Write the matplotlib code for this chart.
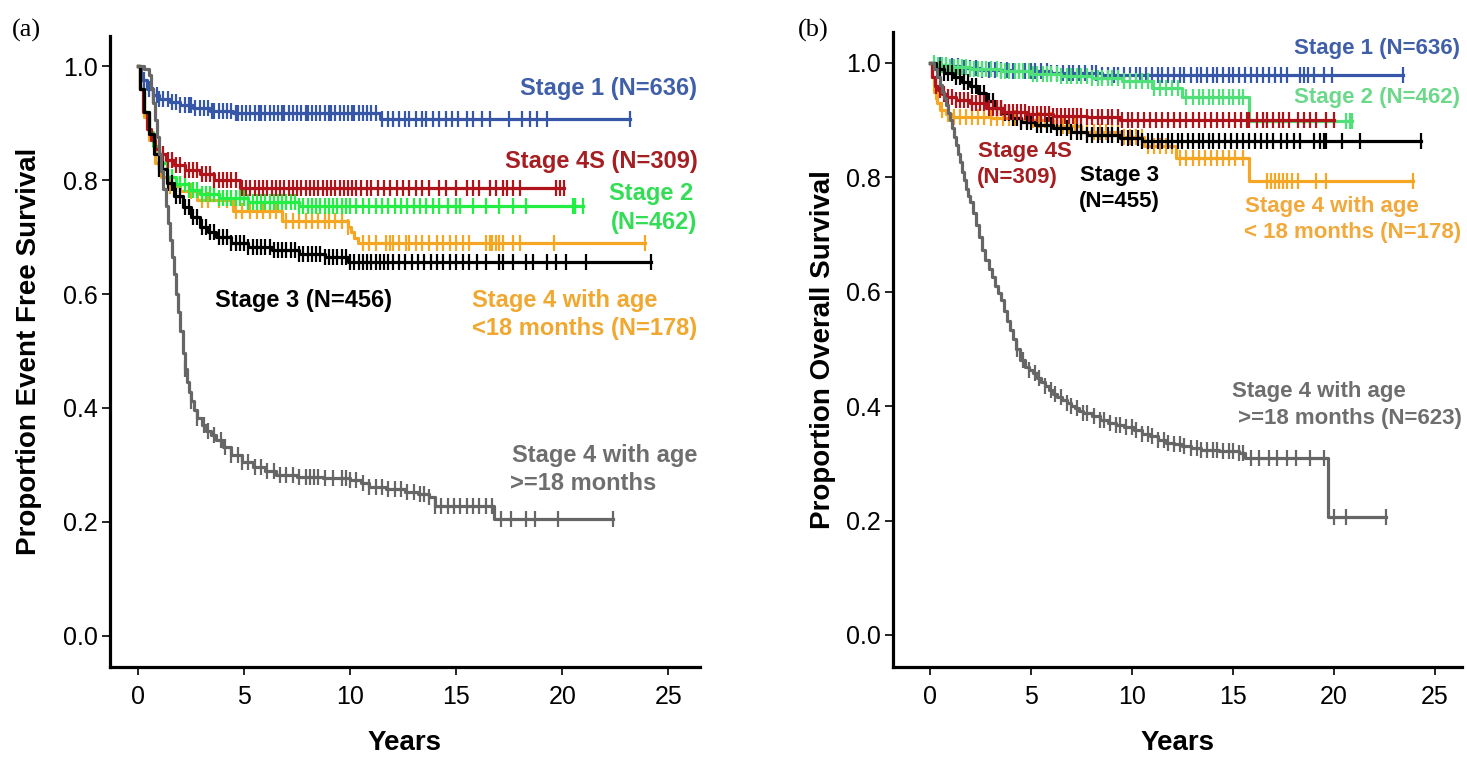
import numpy as np
import matplotlib.pyplot as plt

plt.rcParams['font.family'] = ['Liberation Sans', 'DejaVu Sans']

# ---------------- (a) Event free survival ----------------
# step times (years) and survival proportions, plus censor times
a_stage1_t = [0, 0.15, 0.4, 0.7, 1.0, 1.5, 2.0, 2.6, 3.4, 4.5, 11.4]
a_stage1_s = [1.0, 0.975, 0.96, 0.95, 0.943, 0.937, 0.932, 0.926, 0.921, 0.918, 0.907]
a_stage1_c = [0.3, 0.5, 0.7, 0.9, 1.0, 1.2, 1.4, 1.6, 1.8, 2.0, 2.2, 2.4, 2.5, 2.7, 2.9, 3.1, 3.3, 3.5,
              3.6, 3.8, 4.0, 4.2, 4.4, 4.6, 4.7, 4.9, 5.1, 5.3, 5.5, 5.7, 5.8, 6.0, 6.2, 6.4, 6.6, 6.8,
              6.9, 7.1, 7.3, 7.5, 7.7, 7.9, 8.0, 8.2, 8.4, 8.6, 8.8, 9.0, 9.1, 9.3, 9.5, 9.7, 9.9, 10.1,
              10.2, 10.4, 10.6, 10.8, 11.0, 11.2, 11.5, 11.8, 12.0, 12.3, 12.6, 12.8, 13.1, 13.4, 13.6,
              13.9, 14.2, 14.5, 14.8, 15.1, 15.5, 15.8, 16.2, 16.6, 17.5, 18.1, 18.5, 18.8, 19.3, 23.2]

a_stage4s_t = [0, 0.1, 0.25, 0.4, 0.6, 0.8, 1.0, 1.3, 1.7, 2.2, 2.9, 3.6, 4.8]
a_stage4s_s = [1.0, 0.96, 0.92, 0.89, 0.87, 0.855, 0.845, 0.835, 0.826, 0.818, 0.81, 0.80, 0.786]
a_stage4s_c = [1.0, 1.2, 1.4, 1.6, 1.8, 2.0, 2.2, 2.4, 2.6, 2.8, 3.0, 3.2, 3.4, 3.6, 3.8, 4.0, 4.2, 4.4,
               4.6, 4.9, 5.1, 5.3, 5.5, 5.7, 5.9, 6.1, 6.3, 6.5, 6.7, 6.9, 7.1, 7.3, 7.5, 7.7, 7.9, 8.1,
               8.3, 8.5, 8.7, 8.9, 9.1, 9.3, 9.5, 9.7, 9.9, 10.1, 10.3, 10.5, 10.8, 11.0, 11.3, 11.6,
               11.9, 12.2, 12.5, 12.8, 13.1, 13.4, 13.7, 14.2, 14.5, 15.0, 15.5, 15.8, 16.1, 16.6, 16.9,
               17.2, 17.4, 17.7, 18.0, 19.7, 19.9, 20.1]

a_stage2_t = [0, 0.1, 0.3, 0.5, 0.7, 1.0, 1.35, 1.8, 2.4, 2.9, 3.8, 5.2, 7.6]
a_stage2_s = [1.0, 0.96, 0.92, 0.885, 0.86, 0.83, 0.806, 0.793, 0.782, 0.775, 0.768, 0.762, 0.755]
a_stage2_c = [0.8, 1.0, 1.2, 1.4, 1.6, 1.8, 2.0, 2.2, 2.4, 2.6, 2.8, 3.0, 3.2, 3.4, 3.6, 3.8, 4.0, 4.2,
              4.4, 4.6, 4.8, 5.0, 5.2, 5.4, 5.6, 5.8, 6.0, 6.2, 6.4, 6.6, 6.8, 7.0, 7.2, 7.4, 7.6, 7.8,
              8.0, 8.2, 8.4, 8.6, 8.8, 9.0, 9.2, 9.4, 9.6, 9.8, 10.0, 10.3, 10.6, 10.9, 11.2, 11.5, 11.8,
              12.1, 12.4, 12.7, 13.0, 13.3, 13.6, 13.9, 14.2, 14.6, 15.0, 15.2, 15.8, 16.4, 17.0, 17.7,
              18.3, 20.5, 20.6, 21.0]

a_stage4y_t = [0, 0.1, 0.3, 0.5, 0.8, 1.1, 1.5, 2.0, 2.8, 4.5, 6.8, 9.9, 10.05, 10.2, 10.35]
a_stage4y_s = [1.0, 0.96, 0.91, 0.87, 0.83, 0.805, 0.79, 0.78, 0.765, 0.745, 0.728, 0.718, 0.708, 0.698, 0.69]
a_stage4y_c = [1.5, 2.0, 2.5, 3.0, 3.3, 3.8, 4.2, 4.6, 4.9, 5.3, 5.6, 5.9, 6.2, 6.5, 7.0, 7.3, 7.6, 7.9,
               8.2, 8.5, 8.8, 9.0, 9.3, 9.6, 9.9, 10.6, 10.9, 11.2, 11.7, 11.9, 12.0, 12.3, 12.65, 12.8,
               13.1, 13.4, 13.7, 14.1, 14.4, 14.7, 15.0, 15.3, 15.6, 16.4, 16.6, 16.7, 16.9, 17.0, 17.2,
               17.7, 18.0, 19.6, 23.9]

a_stage3_t = [0, 0.1, 0.3, 0.5, 0.75, 1.0, 1.35, 1.7, 2.1, 2.5, 2.9, 3.3, 3.7, 4.4, 5.2, 6.3, 7.6, 8.8, 9.9]
a_stage3_s = [1.0, 0.96, 0.92, 0.88, 0.845, 0.82, 0.795, 0.772, 0.753, 0.735, 0.718, 0.708, 0.70, 0.69,
              0.683, 0.677, 0.671, 0.665, 0.657]
a_stage3_c = [1.0, 1.2, 1.4, 1.6, 1.8, 2.0, 2.2, 2.4, 2.6, 2.8, 3.0, 3.2, 3.4, 3.6, 3.8, 4.0, 4.2, 4.4,
              4.6, 4.8, 5.0, 5.2, 5.4, 5.6, 5.8, 6.0, 6.2, 6.4, 6.6, 6.8, 7.0, 7.2, 7.4, 7.6, 7.8, 8.0,
              8.2, 8.4, 8.6, 8.8, 9.0, 9.2, 9.4, 9.6, 9.8, 10.0, 10.2, 10.4, 10.6, 10.8, 11.0, 11.2, 11.4,
              11.6, 11.8, 12.0, 12.3, 12.6, 12.9, 13.2, 13.5, 13.8, 14.1, 14.4, 14.7, 15.0, 15.3, 15.6,
              16.0, 16.4, 17.0, 17.2, 17.7, 18.3, 18.6, 19.3, 19.7, 20.2, 21.1, 24.2]

a_stage4o_t = [0, 0.3, 0.5, 0.6, 0.7, 0.8, 0.9, 1.0, 1.1, 1.2, 1.3, 1.4, 1.5, 1.6, 1.7, 1.8, 1.9, 2.0,
               2.1, 2.2, 2.3, 2.4, 2.5, 2.65, 2.8, 3.0, 3.2, 3.45, 3.7, 4.0, 4.4, 4.9, 5.4, 6.0, 6.5, 7.5,
               8.7, 10.0, 10.5, 10.9, 11.7, 12.6, 13.2, 13.7, 14.0, 16.8]
a_stage4o_s = [1.0, 0.995, 0.985, 0.96, 0.935, 0.905, 0.875, 0.845, 0.815, 0.785, 0.755, 0.725, 0.695,
               0.665, 0.635, 0.60, 0.568, 0.535, 0.497, 0.468, 0.445, 0.428, 0.413, 0.397, 0.383, 0.37,
               0.36, 0.352, 0.344, 0.332, 0.318, 0.305, 0.297, 0.289, 0.282, 0.279, 0.277, 0.274, 0.268,
               0.262, 0.258, 0.253, 0.249, 0.244, 0.228, 0.205]
a_stage4o_c = [2.2, 2.5, 2.8, 3.1, 3.3, 3.6, 3.9, 4.1, 4.4, 4.7, 4.9, 5.2, 5.5, 5.8, 6.1, 6.4, 6.7, 7.0,
               7.3, 7.6, 7.9, 8.1, 8.3, 8.5, 8.8, 9.2, 9.6, 9.8, 10.0, 10.3, 10.6, 10.9, 11.2, 11.5, 11.8,
               12.1, 12.4, 12.7, 13.0, 13.3, 13.5, 13.7, 14.0, 14.3, 14.6, 14.9, 15.2, 15.5, 15.8, 16.1,
               16.4, 16.7, 17.1, 17.6, 18.3, 18.7, 19.8, 22.4]

# ---------------- (b) Overall survival ----------------
b_stage1_t = [0, 0.3, 0.8, 1.5, 2.5, 4.0, 6.0, 8.5]
b_stage1_s = [1.0, 0.997, 0.994, 0.991, 0.988, 0.985, 0.982, 0.979]
b_stage1_c = [0.5, 0.8, 1.1, 1.4, 1.7, 2.0, 2.3, 2.6, 2.9, 3.2, 3.5, 3.8, 4.1, 4.4, 4.7, 5.0, 5.2, 5.5,
              5.8, 6.0, 6.3, 6.6, 6.9, 7.1, 7.4, 7.7, 8.0, 8.2, 8.5, 8.8, 9.1, 9.3, 9.6, 9.9, 10.2, 10.4,
              10.7, 11.0, 11.3, 11.5, 11.8, 12.1, 12.4, 12.6, 12.9, 13.2, 13.4, 13.7, 14.0, 14.2, 14.5,
              14.8, 15.0, 15.3, 15.6, 15.9, 16.2, 16.5, 16.8, 17.1, 17.4, 17.7, 18.3, 18.5, 18.7, 19.0,
              19.5, 19.9, 23.4]

b_stage2_t = [0, 0.3, 1.0, 2.0, 3.5, 5.0, 6.5, 8.0, 9.5, 11.0, 12.5, 15.8]
b_stage2_s = [1.0, 0.996, 0.992, 0.989, 0.985, 0.981, 0.977, 0.973, 0.968, 0.956, 0.94, 0.898]
b_stage2_c = [0.2, 0.4, 0.6, 0.8, 1.0, 1.2, 1.4, 1.6, 1.8, 2.0, 2.2, 2.4, 2.6, 2.8, 3.0, 3.3, 3.5, 3.7,
              3.9, 4.2, 4.4, 4.6, 4.9, 5.1, 5.3, 5.6, 5.8, 6.0, 6.3, 6.5, 6.8, 7.0, 7.3, 7.5, 7.8, 8.0,
              8.3, 8.5, 8.8, 9.0, 9.3, 9.6, 9.9, 10.2, 10.5, 10.8, 11.1, 11.4, 11.7, 12.0, 12.3, 12.7,
              13.0, 13.3, 13.5, 13.8, 14.0, 14.3, 14.5, 14.8, 15.0, 15.3, 15.5, 20.6, 20.8, 20.9]

b_stage4s_t = [0, 0.1, 0.25, 0.4, 0.6, 0.83, 1.3, 2.0, 2.8, 3.6, 4.8, 6.1, 7.8, 9.4]
b_stage4s_s = [1.0, 0.975, 0.96, 0.952, 0.946, 0.94, 0.935, 0.93, 0.922, 0.915, 0.911, 0.908, 0.905, 0.901]
b_stage4s_c = [0.3, 0.5, 0.7, 0.9, 1.1, 1.3, 1.5, 1.7, 1.9, 2.1, 2.3, 2.5, 2.7, 2.9, 3.1, 3.3, 3.5, 3.7,
               3.9, 4.1, 4.3, 4.5, 4.7, 4.9, 5.1, 5.3, 5.5, 5.7, 5.9, 6.1, 6.3, 6.5, 6.7, 6.9, 7.1, 7.3,
               7.5, 7.8, 8.0, 8.3, 8.5, 8.8, 9.0, 9.3, 9.5, 9.8, 10.0, 10.3, 10.6, 10.9, 11.2, 11.5, 11.8,
               12.1, 12.4, 12.7, 13.0, 13.3, 13.6, 13.9, 14.2, 14.5, 14.8, 15.1, 15.4, 15.7, 15.8, 16.2,
               16.5, 16.7, 17.0, 17.3, 17.5, 17.8, 18.2, 18.5, 18.8, 19.1, 19.6, 20.0]

b_stage3_t = [0, 0.3, 0.7, 1.15, 1.6, 2.0, 2.4, 2.8, 3.2, 3.6, 4.0, 4.5, 5.2, 6.1, 7.0, 7.8, 9.4, 10.5]
b_stage3_s = [1.0, 0.99, 0.983, 0.976, 0.967, 0.959, 0.947, 0.934, 0.922, 0.912, 0.904, 0.897, 0.891,
              0.886, 0.88, 0.874, 0.869, 0.864]
b_stage3_c = [0.5, 0.7, 0.9, 1.1, 1.3, 1.5, 1.7, 1.9, 2.1, 2.3, 2.5, 2.7, 2.9, 3.1, 3.3, 3.5, 3.7, 3.9,
              4.1, 4.3, 4.5, 4.8, 5.0, 5.3, 5.5, 5.8, 6.0, 6.3, 6.5, 6.8, 7.0, 7.3, 7.5, 7.8, 8.0, 8.3,
              8.5, 8.8, 9.0, 9.3, 9.5, 9.8, 10.0, 10.3, 10.5, 10.8, 11.0, 11.3, 11.5, 11.8, 12.0, 12.3,
              12.5, 12.8, 13.0, 13.3, 13.5, 13.8, 14.0, 14.3, 14.6, 14.9, 15.2, 15.5, 15.8, 16.1, 16.4,
              16.7, 17.0, 17.4, 17.7, 18.0, 18.3, 19.0, 19.3, 19.5, 19.6, 20.4, 21.3, 24.3]

b_stage4y_t = [0, 0.1, 0.2, 0.35, 0.5, 0.8, 1.15, 3.0, 4.5, 6.1, 7.5, 9.4, 10.6, 12.2, 15.8]
b_stage4y_s = [1.0, 0.975, 0.95, 0.93, 0.918, 0.91, 0.906, 0.903, 0.9, 0.889, 0.88, 0.871, 0.854, 0.834, 0.793]
b_stage4y_c = [0.3, 0.6, 0.9, 1.2, 1.5, 1.8, 2.1, 2.4, 2.7, 3.0, 3.3, 3.6, 3.9, 4.2, 4.5, 4.8, 5.1, 5.4,
               5.7, 6.0, 6.3, 6.6, 6.9, 7.2, 7.5, 7.8, 8.1, 8.4, 8.7, 9.0, 9.3, 9.6, 9.9, 10.2, 10.5,
               10.8, 11.1, 11.4, 11.7, 12.0, 12.4, 12.7, 13.0, 13.3, 13.6, 13.9, 14.2, 14.5, 14.8, 15.1,
               15.5, 16.7, 16.9, 17.1, 17.3, 17.5, 17.7, 17.9, 18.2, 19.1, 19.6, 23.9]

b_stage4o_t = [0, 0.2, 0.35, 0.5, 0.6, 0.7, 0.8, 0.9, 1.0, 1.1, 1.2, 1.3, 1.4, 1.5, 1.6, 1.7, 1.8, 1.9,
               2.0, 2.15, 2.3, 2.45, 2.6, 2.75, 2.9, 3.05, 3.2, 3.35, 3.5, 3.65, 3.8, 3.95, 4.1, 4.25,
               4.45, 4.7, 4.9, 5.1, 5.3, 5.5, 5.7, 5.9, 6.1, 6.3, 6.55, 6.8, 7.0, 7.2, 7.4, 7.6, 8.0,
               8.4, 8.8, 9.2, 9.6, 10.1, 10.5, 10.9, 11.3, 11.7, 12.1, 12.5, 12.9, 13.4, 14.3, 15.3,
               15.6, 19.7]
b_stage4o_s = [1.0, 0.99, 0.975, 0.962, 0.95, 0.938, 0.926, 0.913, 0.9, 0.886, 0.871, 0.856, 0.841,
               0.826, 0.81, 0.795, 0.78, 0.768, 0.756, 0.737, 0.716, 0.695, 0.673, 0.656, 0.64, 0.625,
               0.61, 0.598, 0.586, 0.567, 0.549, 0.533, 0.517, 0.5, 0.48, 0.468, 0.463, 0.458, 0.45,
               0.442, 0.435, 0.428, 0.422, 0.416, 0.41, 0.405, 0.4, 0.396, 0.392, 0.388, 0.382, 0.376,
               0.371, 0.367, 0.363, 0.358, 0.352, 0.347, 0.341, 0.336, 0.333, 0.33, 0.326, 0.323, 0.321,
               0.318, 0.309, 0.206]
b_stage4o_c = [4.3, 4.6, 4.9, 5.2, 5.4, 5.7, 6.0, 6.2, 6.5, 6.8, 7.0, 7.3, 7.6, 7.8, 8.1, 8.4, 8.6, 8.9,
               9.2, 9.4, 9.7, 10.0, 10.2, 10.5, 10.8, 11.0, 11.3, 11.6, 11.8, 12.1, 12.4, 12.6, 12.9,
               13.2, 13.4, 13.7, 14.0, 14.2, 14.5, 14.8, 15.0, 15.3, 15.5, 15.9, 16.3, 16.8, 17.2, 17.7,
               18.1, 18.8, 19.5, 20.0, 20.6, 22.6]

# colours
c_blue, c_red, c_orange, c_black, c_gray = '#3656A8', '#B0141A', '#F5A623', '#000000', '#666666'
c_green_a, c_green_b = '#22EE44', '#4FE07A'


def km_curve(ax, t, s, cens, color):
    t = np.asarray(t)
    s = np.asarray(s)
    cens = np.asarray(cens)
    t_end = max(cens.max(), t.max())
    ax.step(np.append(t, t_end), np.append(s, s[-1]), where='post', color=color, lw=2.3)
    idx = np.searchsorted(t, cens, side='right') - 1
    ax.plot(cens, s[idx], ls='none', marker='|', ms=11, mew=1.6, color=color)


def style_axes(ax, xlim, ylim, ylabel, label_x):
    ax.set_xlim(xlim)
    ax.set_ylim(ylim)
    ax.spines['top'].set_visible(False)
    ax.spines['right'].set_visible(False)
    ax.spines['left'].set_linewidth(2.3)
    ax.spines['bottom'].set_linewidth(2.3)
    ax.set_xticks([0, 5, 10, 15, 20, 25])
    ax.set_yticks([0.0, 0.2, 0.4, 0.6, 0.8, 1.0])
    ax.set_yticklabels(['0.0', '0.2', '0.4', '0.6', '0.8', '1.0'])
    ax.tick_params(axis='both', length=6, width=1.2, labelsize=18)
    ax.tick_params(axis='x', pad=7)
    ax.tick_params(axis='y', pad=3)
    ax.set_xlabel('Years', fontsize=20, fontweight='bold')
    ax.set_ylabel(ylabel, fontsize=20, fontweight='bold')
    ax.xaxis.set_label_coords(0.5, -0.10)
    ax.yaxis.set_label_coords(label_x, 0.5)


fig = plt.figure(figsize=(14.67, 7.57), dpi=100)

# panel (a)
ax1 = fig.add_axes([0.0750, 0.1189, 0.4022, 0.8335])
km_curve(ax1, a_stage1_t, a_stage1_s, a_stage1_c, c_blue)
km_curve(ax1, a_stage4y_t, a_stage4y_s, a_stage4y_c, c_orange)
km_curve(ax1, a_stage2_t, a_stage2_s, a_stage2_c, c_green_a)
km_curve(ax1, a_stage4s_t, a_stage4s_s, a_stage4s_c, c_red)
km_curve(ax1, a_stage3_t, a_stage3_s, a_stage3_c, c_black)
km_curve(ax1, a_stage4o_t, a_stage4o_s, a_stage4o_c, c_gray)
style_axes(ax1, (-1.32, 26.5), (-0.0544, 1.0526), 'Proportion Event Free Survival', -0.115)

fs = 17
ax1.text(26.37, 0.961, 'Stage 1 (N=636)', color='#3F5FA8', fontsize=fs, fontweight='bold', ha='right', va='center')
ax1.text(26.37, 0.832, 'Stage 4S (N=309)', color='#A51E22', fontsize=fs, fontweight='bold', ha='right', va='center')
ax1.text(26.2, 0.777, 'Stage 2', color='#33DD55', fontsize=fs, fontweight='bold', ha='right', va='center')
ax1.text(26.37, 0.726, '(N=462)', color='#33DD55', fontsize=fs, fontweight='bold', ha='right', va='center')
ax1.text(3.63, 0.589, 'Stage 3 (N=456)', color='black', fontsize=fs, fontweight='bold', ha='left', va='center')
ax1.text(15.75, 0.589, 'Stage 4 with age', color='#F0A830', fontsize=fs, fontweight='bold', ha='left', va='center')
ax1.text(15.75, 0.540, '<18 months (N=178)', color='#F0A830', fontsize=fs, fontweight='bold', ha='left', va='center')
ax1.text(17.64, 0.316, 'Stage 4 with age', color='#6E6E6E', fontsize=fs, fontweight='bold', ha='left', va='center')
ax1.text(17.55, 0.268, '>=18 months', color='#6E6E6E', fontsize=fs, fontweight='bold', ha='left', va='center')

# panel (b)
ax2 = fig.add_axes([0.6087, 0.1189, 0.3879, 0.8388])
km_curve(ax2, b_stage1_t, b_stage1_s, b_stage1_c, c_blue)
km_curve(ax2, b_stage2_t, b_stage2_s, b_stage2_c, c_green_b)
km_curve(ax2, b_stage4y_t, b_stage4y_s, b_stage4y_c, c_orange)
km_curve(ax2, b_stage3_t, b_stage3_s, b_stage3_c, c_black)
km_curve(ax2, b_stage4s_t, b_stage4s_s, b_stage4s_c, c_red)
km_curve(ax2, b_stage4o_t, b_stage4o_s, b_stage4o_c, c_gray)
style_axes(ax2, (-1.83, 26.34), (-0.056, 1.054), 'Proportion Overall Survival', -0.10)

fs = 16
ax2.text(26.24, 1.026, 'Stage 1 (N=636)', color='#3F5FA8', fontsize=fs, fontweight='bold', ha='right', va='center')
ax2.text(26.24, 0.939, 'Stage 2 (N=462)', color='#6CD98A', fontsize=fs, fontweight='bold', ha='right', va='center')
ax2.text(2.38, 0.845, 'Stage 4S', color='#A51E22', fontsize=fs, fontweight='bold', ha='left', va='center')
ax2.text(2.33, 0.799, '(N=309)', color='#A51E22', fontsize=fs, fontweight='bold', ha='left', va='center')
ax2.text(7.43, 0.804, 'Stage 3', color='black', fontsize=fs, fontweight='bold', ha='left', va='center')
ax2.text(7.38, 0.757, '(N=455)', color='black', fontsize=fs, fontweight='bold', ha='left', va='center')
ax2.text(15.6, 0.749, 'Stage 4 with age', color='#F2A93B', fontsize=fs, fontweight='bold', ha='left', va='center')
ax2.text(15.55, 0.703, '< 18 months (N=178)', color='#F2A93B', fontsize=fs, fontweight='bold', ha='left', va='center')
ax2.text(14.95, 0.425, 'Stage 4 with age', color='#6E6E6E', fontsize=fs, fontweight='bold', ha='left', va='center')
ax2.text(14.95, 0.379, ' >=18 months (N=623)', color='#6E6E6E', fontsize=fs, fontweight='bold', ha='left', va='center')

# panel letters
fig.text(12 / 1467, 1 - 30 / 757, '(a)', fontsize=19, family='Liberation Serif', ha='left', va='center')
fig.text(798 / 1467, 1 - 30 / 757, '(b)', fontsize=19, family='Liberation Serif', ha='left', va='center')

fig.savefig('out.png', dpi=100)
